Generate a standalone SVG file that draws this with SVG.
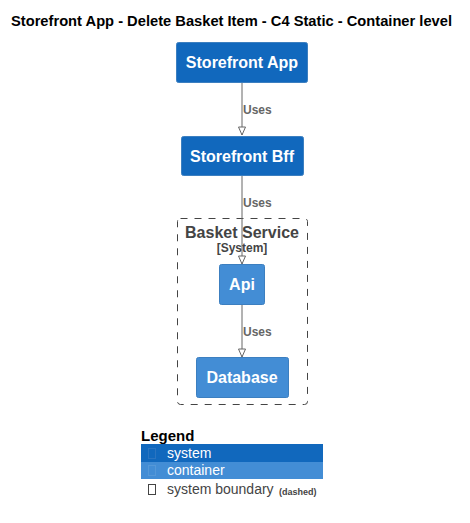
<svg xmlns="http://www.w3.org/2000/svg" width="470" height="523" viewBox="0 0 470 523">
<style>
text{font-family:"Liberation Sans",Arial,sans-serif}
.title{font-size:14.5px;font-weight:bold;fill:#000}
.sys{fill:#1168BD;stroke:#3C7FC0;stroke-width:1}
.cont{fill:#438DD5;stroke:#3C7FC0;stroke-width:1}
.nlabel{font-size:16px;font-weight:bold;fill:#fff;text-anchor:middle}
.edge{stroke:#666;stroke-width:1;fill:none}
.elabel{font-size:12px;font-weight:bold;fill:#666}
.bnd{fill:none;stroke:#444;stroke-width:1;stroke-dasharray:7,7}
.leg{font-size:14px;fill:#fff}
</style>
<defs>
<marker id="arr" markerWidth="10" markerHeight="10" refX="9" refY="4" orient="auto" markerUnits="userSpaceOnUse" viewBox="0 0 10 8">
<path d="M1,0.5 L9,4 L1,7.5 Z" fill="#fff" stroke="#666" stroke-width="1"/>
</marker>
</defs>
<rect width="470" height="523" fill="#fff"/>
<text class="title" x="11" y="26" textLength="441" lengthAdjust="spacingAndGlyphs">Storefront App - Delete Basket Item - C4 Static - Container level</text>

<g id="boundary-basket-service">
<rect class="bnd" x="177.5" y="218.5" width="130" height="186" rx="3"/>
<text x="242" y="238" text-anchor="middle" font-size="16" font-weight="bold" fill="#444">Basket Service</text>
<text x="242" y="252" text-anchor="middle" font-size="12" font-weight="bold" fill="#444">[System]</text>
</g>

<g id="connectors">
<line class="edge" x1="242" y1="82" x2="242" y2="135" marker-end="url(#arr)"/>
<text class="elabel" x="243" y="114">Uses</text>
<line class="edge" x1="242" y1="176" x2="242" y2="264" marker-end="url(#arr)"/>
<text class="elabel" x="243" y="207">Uses</text>
<line class="edge" x1="242" y1="304" x2="242" y2="357" marker-end="url(#arr)"/>
<text class="elabel" x="243" y="336">Uses</text>
</g>

<g id="storefront-app">
<rect class="sys" x="176.5" y="42.5" width="131" height="40" rx="2"/>
<text class="nlabel" x="242" y="68">Storefront App</text>
</g>
<g id="storefront-bff">
<rect class="sys" x="181.5" y="136.5" width="122" height="39" rx="2"/>
<text class="nlabel" x="242" y="162">Storefront Bff</text>
</g>
<g id="api">
<rect class="cont" x="219.5" y="264.5" width="45" height="40" rx="2"/>
<text class="nlabel" x="242" y="290">Api</text>
</g>
<g id="database">
<rect class="cont" x="196.5" y="357.5" width="92" height="40" rx="2"/>
<text class="nlabel" x="242" y="383">Database</text>
</g>

<g id="legend">
<text x="141" y="441" font-size="15" font-weight="bold" fill="#000">Legend</text>
<rect x="141" y="444" width="182" height="18" fill="#1168BD"/>
<rect x="148.5" y="448.5" width="7" height="10" fill="none" stroke="#2a74c0" stroke-width="1"/>
<text class="leg" x="167" y="458">system</text>
<rect x="141" y="462" width="182" height="17" fill="#438DD5"/>
<rect x="148.5" y="465.5" width="7" height="10" fill="none" stroke="#5598d8" stroke-width="1"/>
<text class="leg" x="167" y="475">container</text>
<rect x="148.5" y="484.5" width="7" height="10" fill="none" stroke="#444" stroke-width="1"/>
<text x="167" y="494" font-size="14" fill="#444">system boundary</text>
<text x="279" y="495" font-size="9" font-weight="bold" fill="#444">(dashed)</text>
</g>
</svg>
